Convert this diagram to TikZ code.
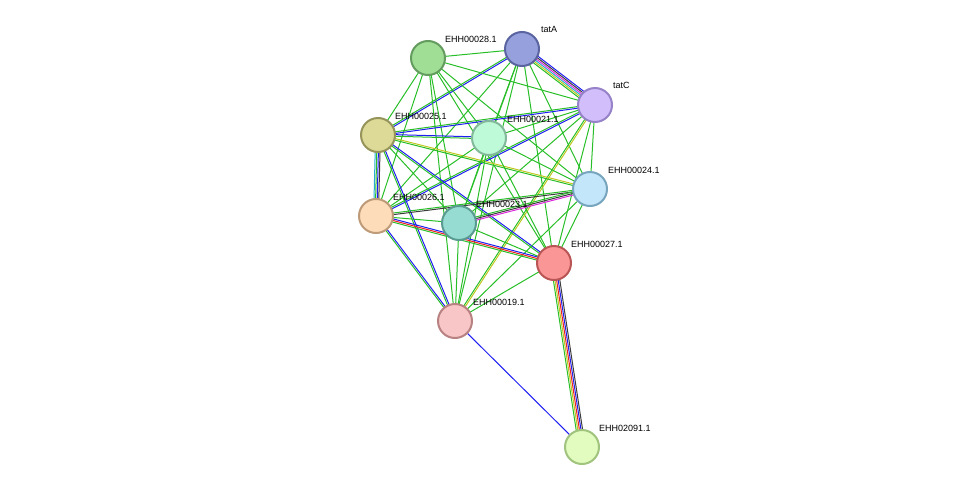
\documentclass[tikz,border=0pt]{standalone}
\usepackage{fontspec}
\setmainfont{Liberation Sans}
\usetikzlibrary{calc}
\definecolor{eg}{RGB}{40,190,40}
\definecolor{ey}{RGB}{190,200,30}
\definecolor{ec}{RGB}{40,170,210}
\definecolor{em}{RGB}{220,40,220}
\definecolor{eb}{RGB}{30,30,240}
\definecolor{ek}{RGB}{60,60,60}
\definecolor{er}{RGB}{240,30,30}
\tikzset{
 prot/.style={circle,minimum size=34pt,inner sep=0pt,line width=2pt},
 lab/.style={font=\fontsize{9}{10}\selectfont,anchor=south west,inner sep=1pt},
 e/.style={line width=1pt}
}
\newcommand{\medge}[3]{%
 \foreach \c [count=\i] in {#3} {\xdef\nn{\i}}%
 \foreach \c [count=\i] in {#3} {%
  \pgfmathsetmacro{\off}{(\i-(\nn+1)/2)*1.6}%
  \draw[e,\c] ($(#1)!\off pt!90:(#2)$) -- ($(#2)!\off pt!-90:(#1)$);}%
}
\begin{document}
\begin{tikzpicture}[x=1pt,y=-1pt]
\useasboundingbox (0,0) rectangle (975,493);
\coordinate (p28) at (428,58);
\coordinate (pA) at (522,49);
\coordinate (pC) at (595,105);
\coordinate (p25) at (378,135);
\coordinate (p21) at (489,138);
\coordinate (p24) at (590,189);
\coordinate (p26) at (376,216);
\coordinate (p23) at (459,223);
\coordinate (p27) at (554,263);
\coordinate (p19) at (455,321);
\coordinate (p91) at (582,447);
\medge{pA}{pC}{eg,ey,ec,em,ek,eb}
\foreach \b in {p28,p21,p24,p26,p23,p27,p19} {\medge{pA}{\b}{eg}}
\medge{pA}{p25}{eg,eb}
\foreach \b in {pC,p25,p21,p24,p26,p23,p27,p19} {\medge{p28}{\b}{eg}}
\medge{pC}{p25}{eg,eb}
\medge{pC}{p26}{eg,eb}
\medge{pC}{p19}{eg,ey}
\foreach \b in {p21,p24,p23,p27} {\medge{pC}{\b}{eg}}
\medge{p25}{p21}{eg,eb}
\medge{p25}{p24}{eg,ey}
\medge{p25}{p26}{ec,eg,eb,ek}
\medge{p25}{p23}{eg}
\medge{p25}{p27}{eg,eb}
\medge{p25}{p19}{eg,eb}
\foreach \b in {p24,p26,p23,p27,p19} {\medge{p21}{\b}{eg}}
\medge{p24}{p26}{eg,ek}
\medge{p24}{p23}{eg,ek,em}
\medge{p24}{p27}{eg}
\medge{p24}{p19}{eg}
\medge{p26}{p23}{eg}
\medge{p26}{p27}{eg,er,eb}
\medge{p26}{p19}{eg,eb}
\medge{p23}{p27}{eg}
\medge{p23}{p19}{eg}
\medge{p27}{p19}{eg}
\medge{p27}{p91}{eg,ey,er,eb,ek}
\medge{p19}{p91}{eb}
\node[prot,fill={rgb,255:red,160;green,222;blue,150},draw={rgb,255:red,100;green,155;blue,95}] (n28) at (p28) {};
\node[prot,fill={rgb,255:red,150;green,160;blue,220},draw={rgb,255:red,90;green,100;blue,160}] (nA) at (pA) {};
\node[prot,fill={rgb,255:red,210;green,190;blue,250},draw={rgb,255:red,150;green,130;blue,200}] (nC) at (pC) {};
\node[prot,fill={rgb,255:red,220;green,218;blue,150},draw={rgb,255:red,150;green,148;blue,90}] (n25) at (p25) {};
\node[prot,fill={rgb,255:red,190;green,250;blue,215},draw={rgb,255:red,130;green,185;blue,155}] (n21) at (p21) {};
\node[prot,fill={rgb,255:red,195;green,230;blue,250},draw={rgb,255:red,120;green,165;blue,190}] (n24) at (p24) {};
\node[prot,fill={rgb,255:red,253;green,220;blue,185},draw={rgb,255:red,190;green,155;blue,120}] (n26) at (p26) {};
\node[prot,fill={rgb,255:red,150;green,220;blue,210},draw={rgb,255:red,90;green,155;blue,145}] (n23) at (p23) {};
\node[prot,fill={rgb,255:red,250;green,150;blue,150},draw={rgb,255:red,185;green,85;blue,85}] (n27) at (p27) {};
\node[prot,fill={rgb,255:red,248;green,198;blue,198},draw={rgb,255:red,185;green,130;blue,130}] (n19) at (p19) {};
\node[prot,fill={rgb,255:red,225;green,252;blue,190},draw={rgb,255:red,160;green,195;blue,125}] (n91) at (p91) {};
\node[lab] (l28) at (444,44) {EHH00028.1};
\node[lab] (lA) at (540,34) {tatA};
\node[lab] (lC) at (612,90) {tatC};
\node[lab] (l25) at (394,121) {EHH00025.1};
\node[lab] (l21) at (506,124) {EHH00021.1};
\node[lab] (l24) at (607,175) {EHH00024.1};
\node[lab] (l26) at (392,202) {EHH00026.1};
\node[lab] (l23) at (475,209) {EHH00023.1};
\node[lab] (l27) at (570,249) {EHH00027.1};
\node[lab] (l19) at (472,307) {EHH00019.1};
\node[lab] (l91) at (598,433) {EHH02091.1};
\end{tikzpicture}
\end{document}
